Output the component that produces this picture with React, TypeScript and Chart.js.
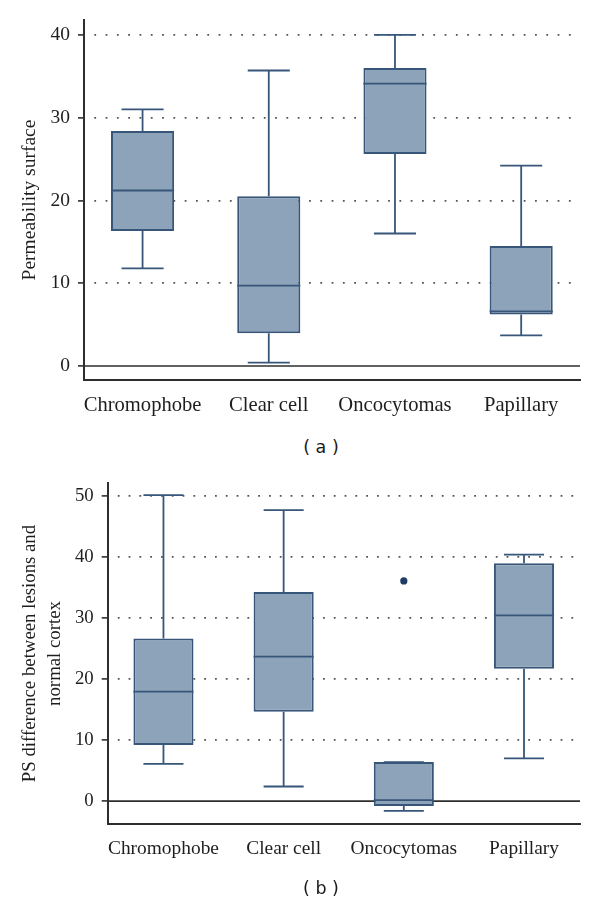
import React, { useEffect, useRef } from "react";
import { Chart, registerables } from "chart.js";

Chart.register(...registerables);

// ---------- data ----------
const categories = ["Chromophobe", "Clear cell", "Oncocytomas", "Papillary"];

// Panel (a): Permeability surface
const aMin = [11.8, 0.4, 16.0, 3.7];
const aQ1 = [16.3, 3.95, 25.6, 6.2];
const aMedian = [21.2, 9.7, 34.1, 6.6];
const aQ3 = [28.4, 20.5, 36.0, 14.5];
const aMax = [31.0, 35.7, 40.0, 24.2];
const aTicks = [0, 10, 20, 30, 40];

// Panel (b): PS difference between lesions and normal cortex
const bMin = [6.1, 2.4, -1.6, 7.0];
const bQ1 = [9.2, 14.65, -0.8, 21.7];
const bMedian = [17.95, 23.7, 0.15, 30.45];
const bQ3 = [26.65, 34.3, 6.4, 39.0];
const bMax = [50.15, 47.7, 6.4, 40.4];
const bOutlierCategory = [3];
const bOutlierValue = [36.1];
const bTicks = [0, 10, 20, 30, 40, 50];

// ---------- styles ----------
const BOX_FILL = "#8ca3b9";
const BOX_LINE = "#37567a";
const AXIS = "#2e2e2e";
const GRID = "#555555";
const TEXT = "#1e1e1e";
const OUTLIER = "#1f3c66";
const SERIF = "'Liberation Serif', 'DejaVu Serif', serif";

type Panel = {
  min: number[];
  q1: number[];
  median: number[];
  q3: number[];
  max: number[];
  ticks: number[];
  yMin: number;
  yMax: number;
  title: string | string[];
  outlierCat: number[];
  outlierVal: number[];
  fontSize: number;
  labelFontSize: number;
  tickFontSize: number;
  titleLineHeight: number;
  titlePadTop: number;
  yAxisWidth: number;
  padTop: number;
  chartBottom: number;
  height: number;
  dash: number[];
  dashOffset: number;
};

function makeBoxPlugin(p: Panel) {
  return {
    id: "boxWhiskers",
    beforeDatasetsDraw(chart: any) {
      const { ctx, chartArea, scales } = chart;
      const y0 = scales.y.getPixelForValue(0);
      ctx.save();
      ctx.strokeStyle = AXIS;
      ctx.lineWidth = 1.6;
      ctx.beginPath();
      ctx.moveTo(chartArea.left, y0);
      ctx.lineTo(chartArea.right, y0);
      ctx.stroke();
      ctx.restore();
    },
    afterDatasetsDraw(chart: any) {
      const { ctx, scales } = chart;
      const xs = scales.x;
      const ys = scales.y;
      const meta = chart.getDatasetMeta(0);
      const spacing = xs.getPixelForValue(2) - xs.getPixelForValue(1);
      const cap = spacing / 3;
      ctx.save();
      ctx.strokeStyle = BOX_LINE;
      ctx.lineWidth = 1.8;
      ctx.lineCap = "butt";
      for (let i = 0; i < categories.length; i++) {
        const bar = meta.data[i];
        const x = bar.x;
        const half = bar.width / 2;
        const yMax = ys.getPixelForValue(p.max[i]);
        const yQ3 = ys.getPixelForValue(p.q3[i]);
        const yQ1 = ys.getPixelForValue(p.q1[i]);
        const yMin = ys.getPixelForValue(p.min[i]);
        const yMed = ys.getPixelForValue(p.median[i]);
        ctx.beginPath();
        ctx.moveTo(x, yQ3);
        ctx.lineTo(x, yMax);
        ctx.moveTo(x - cap / 2, yMax);
        ctx.lineTo(x + cap / 2, yMax);
        ctx.moveTo(x, yQ1);
        ctx.lineTo(x, yMin);
        ctx.moveTo(x - cap / 2, yMin);
        ctx.lineTo(x + cap / 2, yMin);
        ctx.moveTo(x - half, yMed);
        ctx.lineTo(x + half, yMed);
        ctx.stroke();
      }
      ctx.restore();
    },
  };
}

function buildConfig(p: Panel): any {
  const labelFont = { family: SERIF, size: p.labelFontSize };
  const tickFont = { family: SERIF, size: p.tickFontSize };
  return {
    type: "bar",
    data: {
      datasets: [
        {
          type: "bar",
          data: categories.map((_, i) => ({ x: i + 1, y: [p.q1[i], p.q3[i]] })),
          backgroundColor: BOX_FILL,
          borderColor: BOX_LINE,
          borderWidth: 2,
          borderSkipped: false,
          barPercentage: 0.5,
          categoryPercentage: 1,
          order: 2,
        },
        {
          type: "scatter",
          data: p.outlierCat.map((c, i) => ({ x: c, y: p.outlierVal[i] })),
          pointRadius: 3.6,
          pointBackgroundColor: OUTLIER,
          pointBorderWidth: 0,
          order: 1,
        },
      ],
    },
    options: {
      responsive: false,
      animation: false,
      events: [],
      layout: { padding: { top: p.padTop, right: 20, bottom: 0, left: 0 } },
      plugins: {
        legend: { display: false },
        tooltip: { enabled: false },
      },
      scales: {
        x: {
          type: "linear",
          offset: false,
          min: 0.536,
          max: 4.466,
          afterBuildTicks: (s: any) => {
            s.ticks = categories.map((_, i) => ({ value: i + 1 }));
          },
          afterFit: (s: any) => {
            s.height = p.height - p.chartBottom;
          },
          ticks: {
            callback: (_v: any, i: number) => categories[i],
            font: labelFont,
            color: TEXT,
            padding: 5,
            autoSkip: false,
            maxRotation: 0,
          },
          grid: { display: false },
          border: { display: true, color: AXIS, width: 2 },
        },
        y: {
          type: "linear",
          min: p.yMin,
          max: p.yMax,
          afterBuildTicks: (s: any) => {
            s.ticks = p.ticks.map((v) => ({ value: v }));
          },
          afterFit: (s: any) => {
            s.width = p.yAxisWidth;
          },
          ticks: { font: tickFont, color: TEXT, padding: 8 },
          grid: {
            color: (c: any) => (c.tick && c.tick.value === 0 ? "rgba(0,0,0,0)" : GRID),
            lineWidth: 1.8,
            tickLength: 6,
            tickColor: AXIS,
            tickWidth: 1.6,
            tickBorderDash: [],
          },
          border: {
            display: true,
            color: AXIS,
            width: 2,
            dash: p.dash,
            dashOffset: p.dashOffset,
          },
          title: {
            display: true,
            text: p.title,
            color: TEXT,
            font: { family: SERIF, size: p.fontSize, lineHeight: p.titleLineHeight },
            padding: { top: p.titlePadTop, bottom: 0 },
          },
        },
      },
    },
    plugins: [makeBoxPlugin(p)],
  };
}

const panelA: Panel = {
  min: aMin,
  q1: aQ1,
  median: aMedian,
  q3: aQ3,
  max: aMax,
  ticks: aTicks,
  yMin: -1.7,
  yMax: 41.8,
  title: "Permeability surface",
  outlierCat: [],
  outlierVal: [],
  fontSize: 19.5,
  labelFontSize: 20.6,
  tickFontSize: 19.5,
  titleLineHeight: 1.2,
  titlePadTop: 18,
  yAxisWidth: 84,
  padTop: 20,
  chartBottom: 380,
  height: 420,
  dash: [1.8, 9.5],
  dashOffset: 2,
};

const panelB: Panel = {
  min: bMin,
  q1: bQ1,
  median: bMedian,
  q3: bQ3,
  max: bMax,
  ticks: bTicks,
  yMin: -3.8,
  yMax: 52.2,
  title: ["PS difference between lesions and", "normal cortex"],
  outlierCat: bOutlierCategory,
  outlierVal: bOutlierValue,
  fontSize: 18.8,
  labelFontSize: 19.4,
  tickFontSize: 18.8,
  titleLineHeight: 1.3,
  titlePadTop: 18,
  yAxisWidth: 107.7,
  padTop: 22.7,
  chartBottom: 364.3,
  height: 420,
  dash: [1.8, 9.0],
  dashOffset: 2,
};

function BoxChart({ panel, top }: { panel: Panel; top: number }) {
  const ref = useRef<HTMLCanvasElement>(null);
  useEffect(() => {
    if (!ref.current) return;
    const chart = new Chart(ref.current, buildConfig(panel));
    return () => chart.destroy();
  }, [panel]);
  return (
    <canvas
      ref={ref}
      width={600}
      height={panel.height}
      style={{ position: "absolute", left: 0, top, width: 600, height: panel.height, display: "block" }}
    />
  );
}

const captionStyle: React.CSSProperties = {
  position: "absolute",
  left: 271,
  width: 100,
  height: 20,
  lineHeight: "20px",
  textAlign: "center",
  fontFamily: "'DejaVu Sans', sans-serif",
  fontSize: 17.5,
  color: "#1a1a1a",
  whiteSpace: "pre",
};

export default function App() {
  return (
    <div style={{ position: "absolute", left: 0, top: 0, width: 600, height: 904, background: "#fff" }}>
      <BoxChart panel={panelA} top={0} />
      <div style={{ ...captionStyle, top: 437 }}>( a )</div>
      <BoxChart panel={panelB} top={460} />
      <div style={{ ...captionStyle, top: 878 }}>( b )</div>
    </div>
  );
}
